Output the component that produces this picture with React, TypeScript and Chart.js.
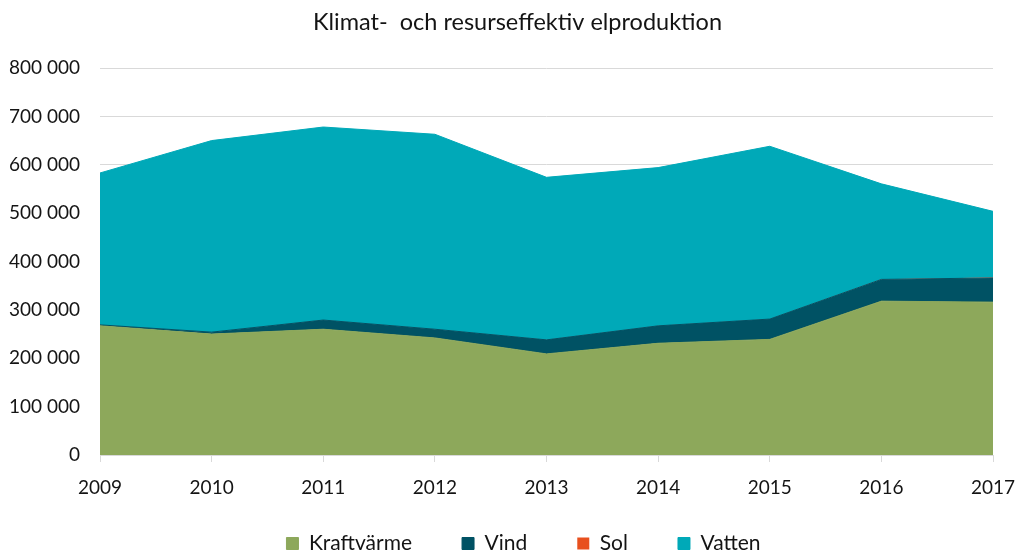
import React, { useEffect, useRef } from 'react';
import { Chart, registerables } from 'chart.js';

Chart.register(...registerables);

const years = ['2009', '2010', '2011', '2012', '2013', '2014', '2015', '2016', '2017'];
const kraftvarme = [267000, 250000, 260000, 242000, 209000, 231000, 239000, 318000, 316000];
const vind = [2000, 4000, 19000, 18000, 29000, 36000, 42000, 45000, 50000];
const sol = [0, 0, 0, 0, 0, 100, 200, 500, 700];
const vatten = [314000, 396000, 399000, 403000, 336000, 327000, 357000, 197000, 137000];
const yTicks = [0, 100000, 200000, 300000, 400000, 500000, 600000, 700000, 800000];

const titleText = 'Klimat-  och resurseffektiv elproduktion';
const FONT = "Lato, 'Open Sans', sans-serif";

const fmt = (v: number) => String(Math.round(v)).replace(/\B(?=(\d{3})+(?!\d))/g, ' ');

const layoutShift = {
  id: 'layoutShift',
  afterLayout(chart: any) {
    const l = chart.legend;
    if (l) {
      l.top = 483;
      l.bottom = 556;
      l.left += 13;
      l.right += 13;
    }
    const t = chart.titleBlock;
    if (t) {
      t.left += 7;
      t.right += 7;
    }
  },
};

export default function App() {
  const ref = useRef<HTMLCanvasElement | null>(null);

  useEffect(() => {
    if (!ref.current) return;
    const mk = (label: string, data: number[], color: string, fill: string | boolean, bw: number) => ({
      label,
      data,
      backgroundColor: color,
      borderColor: color,
      borderWidth: bw,
      pointRadius: 0,
      pointHoverRadius: 0,
      fill,
      tension: 0,
    });
    const chart = new Chart(ref.current, {
      type: 'line',
      data: {
        labels: years,
        datasets: [
          mk('Kraftvärme', kraftvarme, '#8da85b', 'origin', 1),
          mk('Vind', vind, '#005264', '-1', 1),
          mk('Sol', sol, '#e8501e', '-1', 0),
          mk('Vatten', vatten, '#00a9b8', '-1', 1),
        ],
      },
      options: {
        animation: false,
        responsive: false,
        maintainAspectRatio: false,
        layout: { padding: 0 },
        plugins: {
          title: {
            display: true,
            text: titleText,
            color: '#141414',
            font: { family: FONT, size: 23.5, weight: 'normal' },
            padding: { top: 8, bottom: 31.8 },
          },
          legend: {
            position: 'bottom',
            maxHeight: 56,
            labels: {
              boxWidth: 12,
              boxHeight: 12,
              padding: 50,
              color: '#141414',
              font: { family: FONT, size: 21 },
            },
          },
          tooltip: { enabled: false },
        },
        scales: {
          x: {
            offset: false,
            grid: { drawOnChartArea: false, drawTicks: true, tickLength: 7, color: '#d9d9d9' },
            border: { color: '#d9d9d9' },
            ticks: { color: '#141414', font: { family: FONT, size: 19 }, padding: 14, maxRotation: 0 },
            afterFit: (s: any) => {
              s.height = 45;
              s.paddingLeft = 0;
              s.paddingRight = 28;
            },
          },
          y: {
            stacked: true,
            min: 0,
            max: 800000,
            afterBuildTicks: (s: any) => { s.ticks = yTicks.map((v) => ({ value: v })); },
            grid: { color: '#d9d9d9', drawTicks: false },
            border: { display: false },
            ticks: {
              color: '#141414',
              font: { family: FONT, size: 19 },
              padding: 20,
              callback: (v: any) => fmt(Number(v)),
            },
            afterFit: (s: any) => { s.width = 100; },
          },
        },
      },
      plugins: [layoutShift],
    });
    return () => chart.destroy();
  }, []);

  return (
    <div style={{ position: 'fixed', left: 0, top: 0, width: 1021, height: 556, background: '#fff' }}>
      <canvas ref={ref} width={1021} height={556} style={{ display: 'block', width: 1021, height: 556 }} />
    </div>
  );
}
